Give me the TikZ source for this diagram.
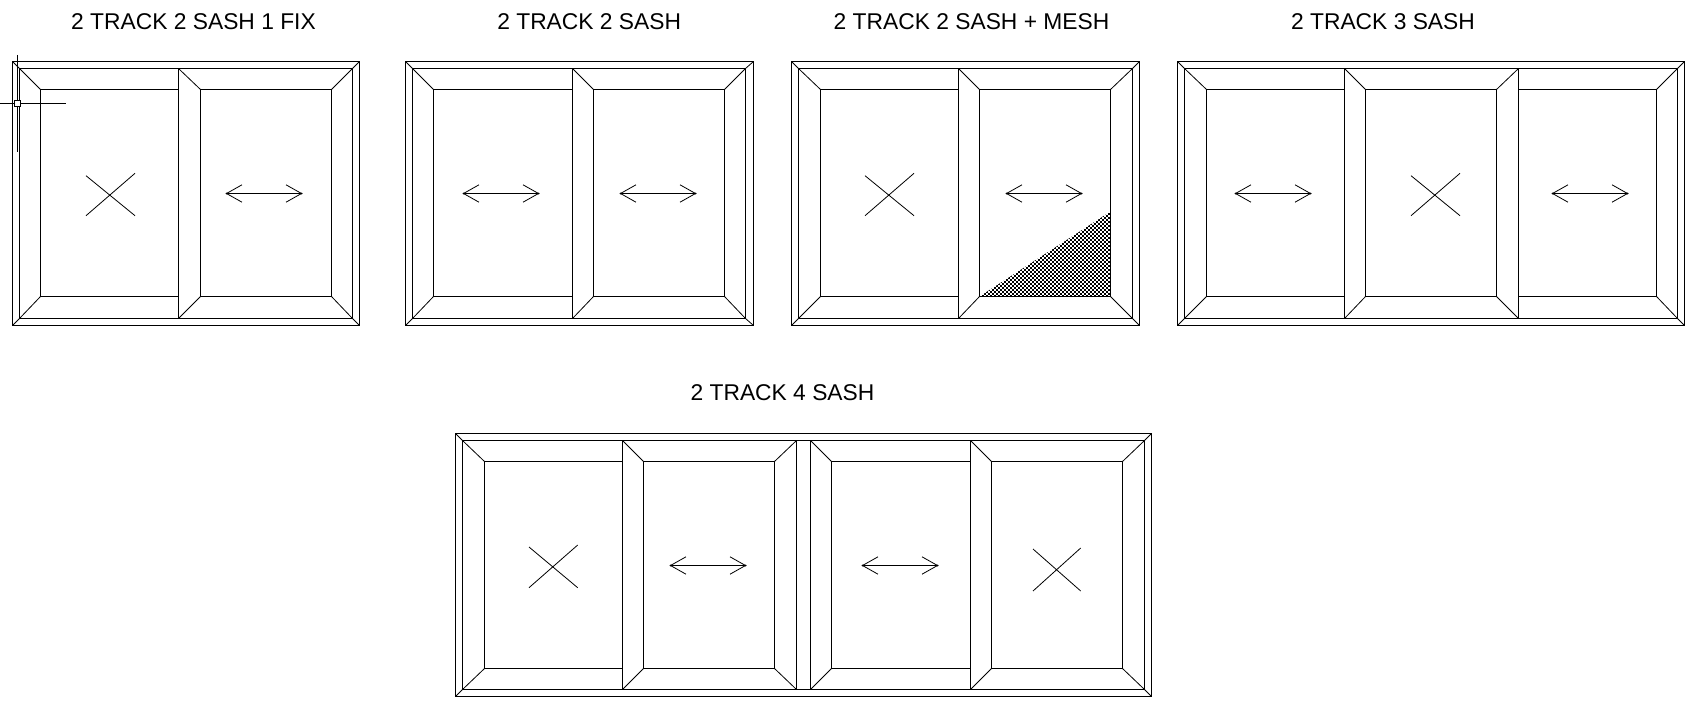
\documentclass[tikz,border=0pt]{standalone}
\usepackage{fontspec}
\setmainfont{Liberation Sans}
\tikzset{
  heavy/.style={line width=1.1pt,black},
  fine/.style={line width=0.8pt,black},
  title/.style={font=\fontsize{22.8}{27}\selectfont,inner sep=0pt,anchor=center},
}
% y levels of the window in force
\newcommand\wfYlevels[6]{\def\wfOt{#1}\def\wfIt{#2}\def\wfGt{#3}\def\wfGb{#4}\def\wfIb{#5}\def\wfOb{#6}}
% outer frame: x outer-left, inner-left, inner-right, outer-right
\newcommand\wfFrame[4]{%
  \draw[heavy] (#1,\wfOt) rectangle (#4,\wfOb);
  \draw[heavy] (#2,\wfIt) rectangle (#3,\wfIb);
  \draw[fine] (#1,\wfOt) -- (#2,\wfIt) (#4,\wfOt) -- (#3,\wfIt)
              (#1,\wfOb) -- (#2,\wfIb) (#4,\wfOb) -- (#3,\wfIb);
}
\newcommand\wfGlass[2]{\draw[heavy] (#1,\wfGt) rectangle (#2,\wfGb);}
\newcommand\wfStile[1]{\draw[heavy] (#1,\wfIt) -- (#1,\wfIb);}
\newcommand\wfMitre[2]{\draw[fine] (#1,\wfIt) -- (#2,\wfGt) (#1,\wfIb) -- (#2,\wfGb);}
% sliding arrow: x left, x right, y
\newcommand\wfSlide[3]{%
  \draw[heavy] (#1,#3) -- (#2,#3);
  \draw[fine] ({#1+15.5},{#3-8.7}) -- (#1,#3) -- ({#1+15.5},{#3+8.7})
              ({#2-15.5},{#3-8.7}) -- (#2,#3) -- ({#2-15.5},{#3+8.7});
  \fill (#1,#3) circle (1pt) (#2,#3) circle (1pt);
}
% fixed mark: x left, x right, y top-left, y top-right, y bottom
\newcommand\wfFixed[5]{\draw[fine] (#1,#3) -- (#2,#5) (#1,#5) -- (#2,#4);}
\begin{document}
\begin{tikzpicture}[x=1pt,y=-1pt]
\useasboundingbox (0,0) rectangle (1696,709);
\node[title] (t1) at (193.5,21.5) {2 TRACK 2 SASH 1 FIX};
\node[title] (t2) at (589.2,21.5) {2 TRACK 2 SASH};
\node[title] (t3) at (971.5,21.5) {2 TRACK 2 SASH + MESH};
\node[title] (t4) at (1383,21.5) {2 TRACK 3 SASH};
\node[title] (t5) at (782.5,393) {2 TRACK 4 SASH};

\wfYlevels{61.5}{68.5}{89.5}{296.5}{318.5}{325.5}
% window 1
\wfFrame{12.5}{19.5}{352.5}{359.5}
\wfStile{178.5}
\wfGlass{40.5}{178.5}
\wfGlass{200.5}{331.5}
\wfMitre{19.5}{40.5}\wfMitre{178.5}{200.5}\wfMitre{352.5}{331.5}
\wfFixed{86}{135}{175.7}{173.3}{215.7}
\wfSlide{226.5}{301.5}{193.5}
% cursor
\draw[heavy] (17.5,55) -- (17.5,152) (0,103.5) -- (66,103.5);
\draw[heavy,fill=white] (14.5,100.5) rectangle (20.5,106.5);

% window 2
\wfFrame{405.5}{412.5}{745.5}{753.5}
\wfStile{572.5}
\wfGlass{433.5}{572.5}
\wfGlass{593.5}{724.5}
\wfMitre{412.5}{433.5}\wfMitre{572.5}{593.5}\wfMitre{745.5}{724.5}
\wfSlide{463.5}{538.5}{193.5}
\wfSlide{620.5}{695.5}{193.5}

% window 3
\wfFrame{791.5}{798.5}{1132.5}{1139.5}
\begin{scope}
  \clip (979.5,296.5) -- (1110.5,211.5) -- (1110.5,296.5) -- cycle;
  \foreach \r in {0,...,21}{
    \pgfmathsetmacro\yy{211+4*\r}
    \draw[line width=2pt,dash pattern=on 2pt off 2pt] (978,\yy+1) -- (1112,\yy+1);
    \draw[line width=2pt,dash pattern=on 2pt off 2pt,dash phase=2pt] (978,\yy+3) -- (1112,\yy+3);
  }
\end{scope}
\wfStile{958.5}
\wfGlass{820.5}{958.5}
\wfGlass{979.5}{1110.5}
\wfMitre{798.5}{820.5}\wfMitre{958.5}{979.5}\wfMitre{1132.5}{1110.5}
\wfFixed{865}{914}{175.7}{173.3}{215.7}
\wfSlide{1006.5}{1081.5}{193.5}

% window 4
\wfFrame{1177.5}{1184.5}{1677.5}{1684.5}
\wfStile{1344.5}\wfStile{1518.5}
\wfGlass{1206.5}{1344.5}
\wfGlass{1365.5}{1496.5}
\wfGlass{1518.5}{1656.5}
\wfMitre{1184.5}{1206.5}\wfMitre{1344.5}{1365.5}\wfMitre{1518.5}{1496.5}\wfMitre{1677.5}{1656.5}
\wfSlide{1235.5}{1310.5}{193.5}
\wfFixed{1411}{1460}{175.7}{173.3}{215.7}
\wfSlide{1552.5}{1627.5}{193.5}

% window 5
\wfYlevels{433.5}{440.5}{461.5}{668.5}{689.5}{696.5}
\wfFrame{455.5}{462.5}{1144.5}{1151.5}
\wfStile{622.5}\wfStile{796.5}\wfStile{810.5}\wfStile{970.5}
\wfGlass{484.5}{622.5}
\wfGlass{643.5}{774.5}
\wfGlass{831.5}{970.5}
\wfGlass{991.5}{1122.5}
\wfMitre{462.5}{484.5}\wfMitre{622.5}{643.5}\wfMitre{796.5}{774.5}
\wfMitre{810.5}{831.5}\wfMitre{970.5}{991.5}\wfMitre{1144.5}{1122.5}
\wfFixed{529}{577.7}{547}{545}{587.7}
\wfSlide{670.5}{745.5}{565.5}
\wfSlide{862.5}{937.5}{565.5}
\wfFixed{1033}{1080.7}{549}{548}{591}
\end{tikzpicture}
\end{document}
